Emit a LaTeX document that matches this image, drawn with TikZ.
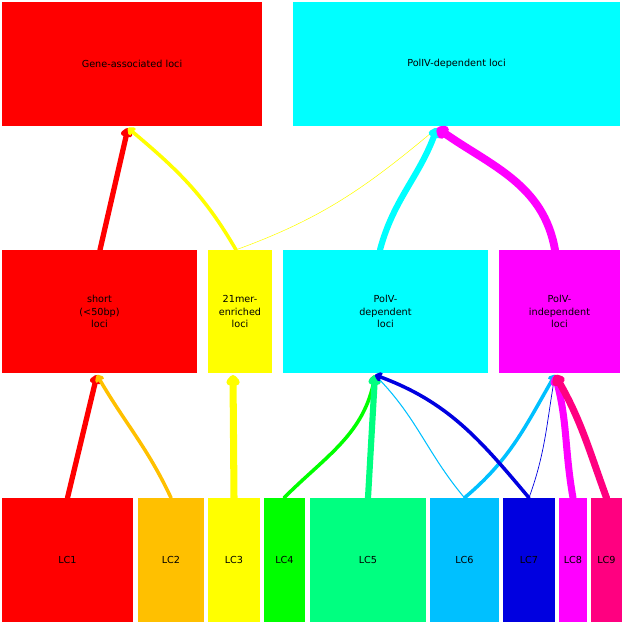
\documentclass[tikz,border=0pt]{standalone}
\usepackage{fontspec}
\setmainfont{DejaVu Sans}
\usetikzlibrary{arrows.meta}
\definecolor{cRed}{HTML}{FF0000}
\definecolor{cOra}{HTML}{FFC000}
\definecolor{cYel}{HTML}{FFFF00}
\definecolor{cGre}{HTML}{00FF00}
\definecolor{cSpr}{HTML}{00FF80}
\definecolor{cSky}{HTML}{00C0FF}
\definecolor{cBlu}{HTML}{0000E0}
\definecolor{cMag}{HTML}{FF00FF}
\definecolor{cRos}{HTML}{FF0080}
\definecolor{cCya}{HTML}{00FFFF}
\begin{document}
\begin{tikzpicture}[x=0.04cm,y=-0.04cm]
      \tikzstyle{BOX} = [rectangle, inner sep=0pt, align=center, font=\fontsize{11}{14}\selectfont]
      \tikzstyle{LNK} = [-{Straight Barb[round,length=4pt,width=7pt]}, line cap=round]
      \newcommand{\bx}[6]{\node[BOX, fill=#6, minimum width={(#3-#2)*0.04cm}, minimum height={(#5-#4)*0.04cm}] (#1) at ({(#2+#3)/2},{(#4+#5)/2})}
      \useasboundingbox (0,0) rectangle (625,625);

      %%%%% VERTEX
      \bx{gene}{2}{262}{2}{126}{cRed} {Gene-associated loci};
      \bx{pol4}{293}{620}{2}{126}{cCya} {PolIV-dependent loci};

      \bx{short}{2}{197}{250}{373}{cRed} {short\\(<50bp)\\loci};
      \bx{mer}{208}{272}{250}{373}{cYel} {21mer-\\enriched\\loci};
      \bx{pvd}{283}{488}{250}{373}{cCya} {PolV-\\dependent\\loci};
      \bx{pvi}{499}{620}{250}{373}{cMag} {PolV-\\independent\\loci};

      \bx{lc1}{2}{133}{498}{622}{cRed} {LC1};
      \bx{lc2}{138}{204}{498}{622}{cOra} {LC2};
      \bx{lc3}{208}{260}{498}{622}{cYel} {LC3};
      \bx{lc4}{264}{305}{498}{622}{cGre} {LC4};
      \bx{lc5}{310}{426}{498}{622}{cSpr} {LC5};
      \bx{lc6}{430}{499}{498}{622}{cSky} {LC6};
      \bx{lc7}{503}{555}{498}{622}{cBlu} {LC7};
      \bx{lc8}{559}{587}{498}{622}{cMag} {LC8};
      \bx{lc9}{591}{622}{498}{622}{cRos} {LC9};

      \coordinate (gIn) at (128,128);
      \coordinate (pIn) at (437,128);
      \coordinate (sIn) at (97,375);
      \coordinate (mIn) at (233,375);
      \coordinate (dIn) at (375,375);
      \coordinate (iIn) at (555,375);

      %%%%% EDGES
      \draw[LNK, cRed, line width=6pt] (short.north -| 100,0) -- (gIn);
      \draw[LNK, cYel, line width=4pt] (mer.north -| 236,0) to[out=120,in=-40] (gIn);
      \draw[cYel, line width=0.6pt] (mer.north -| 236,0) to[out=20,in=-140] (pIn);
      \draw[LNK, cCya, line width=7pt] (pvd.north -| 380,0) to[out=75,in=-110] (pIn);
      \draw[LNK, cMag, line width=9pt] (pvi.north -| 555,0) to[out=100,in=-35] (pIn);

      \draw[LNK, cRed, line width=6pt] (lc1.north) -- (sIn);
      \draw[LNK, cOra, line width=4pt] (lc2.north) to[out=115,in=-60] (sIn);
      \draw[LNK, cYel, line width=8pt] (lc3.north -| 234,0) -- (mIn);
      \draw[LNK, cGre, line width=4pt] (lc4.north -| 284,0) to[out=45,in=-100] (dIn);
      \draw[LNK, cSpr, line width=7pt] (lc5.north -| 368,0) -- (dIn);
      \draw[cSky, line width=1.2pt] (lc6.north) to[out=130,in=-45] (dIn);
      \draw[LNK, cSky, line width=4pt] (lc6.north) to[out=40,in=-120] (iIn);
      \draw[LNK, cBlu, line width=4pt] (lc7.north) to[out=130,in=-20] (dIn);
      \draw[cBlu, line width=0.8pt] (lc7.north) to[out=70,in=-100] (iIn);
      \draw[LNK, cMag, line width=8pt] (lc8.north) to[out=100,in=-75] (iIn);
      \draw[LNK, cRos, line width=8pt] (lc9.north) to[out=110,in=-60] (iIn);
\end{tikzpicture}
\end{document}
